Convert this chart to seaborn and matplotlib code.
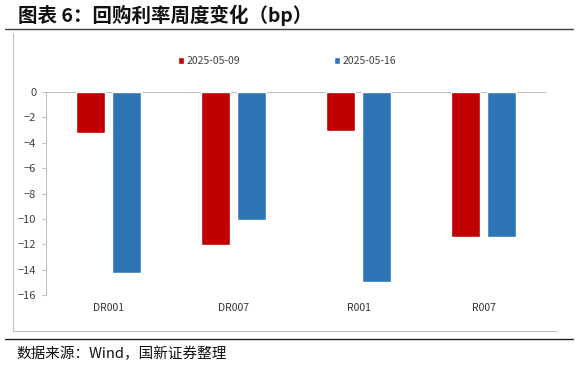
import pandas as pd
import matplotlib.pyplot as plt
import seaborn as sns
from matplotlib.lines import Line2D

categories = ['DR001', 'DR007', 'R001', 'R007']
dates = ['2025-05-09', '2025-05-16']
vals_0509 = [-3.2, -12.05, -3.05, -11.4]
vals_0516 = [-14.3, -10.1, -15.0, -11.4]
colors = ['#C00000', '#2E75B6']

df = pd.DataFrame({
    'cat': categories * 2,
    'date': [dates[0]] * 4 + [dates[1]] * 4,
    'val': vals_0509 + vals_0516,
})

sns.set_style('white')
plt.rcParams['font.family'] = ['Noto Sans CJK SC', 'DejaVu Sans']
plt.rcParams['axes.unicode_minus'] = True

fig = plt.figure(figsize=(5.78, 3.67), dpi=100)
ax = fig.add_axes([46 / 578, 1 - 295 / 367, 500 / 578, 203 / 367])

sns.barplot(data=df, x='cat', y='val', hue='date', palette=colors,
            width=0.58, gap=0.22, saturation=1, ax=ax)

ax.set_ylim(-16, 0)
ax.set_yticks(range(-16, 1, 2))
ax.set_xlabel('')
ax.set_ylabel('')
ax.tick_params(axis='y', labelsize=8, length=3, color='#bfbfbf', left=True, pad=4)
ax.tick_params(axis='x', labelsize=7.5, length=0, pad=6)
for lbl in ax.get_xticklabels():
    lbl.set_color('#333333')
for lbl in ax.get_yticklabels():
    lbl.set_color('#404040')
for s in ['top', 'right', 'bottom']:
    ax.spines[s].set_visible(False)
ax.spines['left'].set_color('#bfbfbf')
ax.spines['left'].set_linewidth(0.8)
ax.axhline(0, color='#bfbfbf', lw=0.8, zorder=0)

leg = ax.legend(loc='lower center', bbox_to_anchor=(0.482, 1.08), ncol=2, frameon=False,
                fontsize=7.5, handlelength=0.6, handleheight=0.6, handletextpad=0.2,
                columnspacing=9)
for t in leg.get_texts():
    t.set_color('#404040')

# outer frame and rules
fig.add_artist(Line2D([13 / 578, 13 / 578], [1 - 33 / 367, 1 - 331 / 367], color='#bfbfbf', lw=0.8))
fig.add_artist(Line2D([13 / 578, 557 / 578], [1 - 331 / 367, 1 - 331 / 367], color='#bfbfbf', lw=0.8))
fig.add_artist(Line2D([5 / 578, 573 / 578], [1 - 29 / 367, 1 - 29 / 367], color='#404040', lw=1.0))
fig.add_artist(Line2D([5 / 578, 573 / 578], [1 - 339 / 367, 1 - 339 / 367], color='#202020', lw=1.0))

fig.text(18 / 578, 1 - 15 / 367, '图表 6：回购利率周度变化（bp）', fontsize=14,
         fontweight='bold', va='center', ha='left', color='#111111')
fig.text(16 / 578, 1 - 354 / 367, '数据来源：Wind，国新证券整理', fontsize=10.5,
         va='center', ha='left', color='#111111')

fig.savefig('out.png', dpi=100)
